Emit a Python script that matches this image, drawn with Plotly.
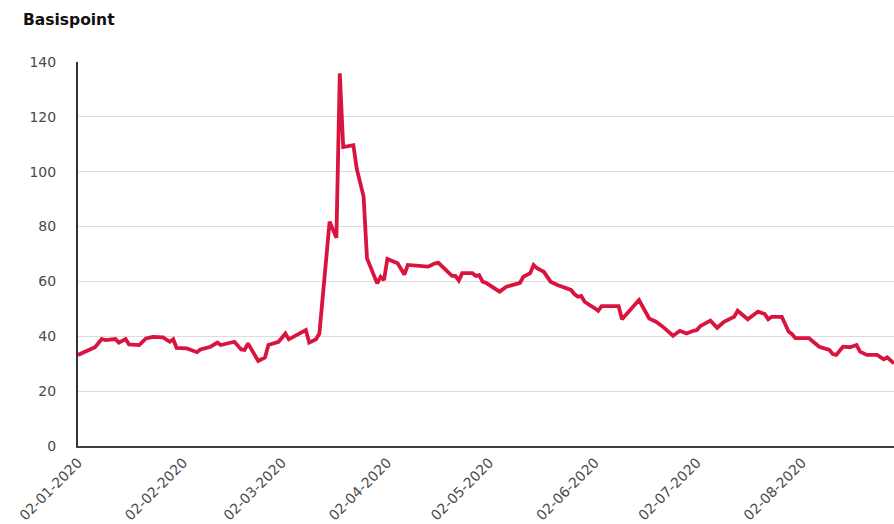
import plotly.graph_objects as go

dates = [
    "2020-01-02", "2020-01-05", "2020-01-07", "2020-01-09", "2020-01-10", "2020-01-13",
    "2020-01-14", "2020-01-16", "2020-01-17", "2020-01-20", "2020-01-22", "2020-01-24",
    "2020-01-27", "2020-01-29", "2020-01-30", "2020-01-31", "2020-02-03", "2020-02-06",
    "2020-02-07", "2020-02-10", "2020-02-12", "2020-02-13", "2020-02-17", "2020-02-19",
    "2020-02-20", "2020-02-21", "2020-02-24", "2020-02-26", "2020-02-27", "2020-03-01",
    "2020-03-03", "2020-03-04", "2020-03-07", "2020-03-09", "2020-03-10", "2020-03-12",
    "2020-03-13", "2020-03-16", "2020-03-18", "2020-03-19", "2020-03-20", "2020-03-23",
    "2020-03-24", "2020-03-26", "2020-03-27", "2020-03-30", "2020-03-31", "2020-04-01",
    "2020-04-02", "2020-04-05", "2020-04-07", "2020-04-08", "2020-04-14", "2020-04-16",
    "2020-04-17", "2020-04-21", "2020-04-22", "2020-04-23", "2020-04-24", "2020-04-27",
    "2020-04-28", "2020-04-29", "2020-04-30", "2020-05-01", "2020-05-05", "2020-05-07",
    "2020-05-10", "2020-05-11", "2020-05-12", "2020-05-14", "2020-05-15", "2020-05-16",
    "2020-05-18", "2020-05-20", "2020-05-22", "2020-05-26", "2020-05-27", "2020-05-28",
    "2020-05-29", "2020-05-30", "2020-06-02", "2020-06-03", "2020-06-04", "2020-06-09",
    "2020-06-10", "2020-06-12", "2020-06-15", "2020-06-18", "2020-06-20", "2020-06-22",
    "2020-06-24", "2020-06-25", "2020-06-27", "2020-06-29", "2020-07-01", "2020-07-02",
    "2020-07-03", "2020-07-06", "2020-07-08", "2020-07-10", "2020-07-13", "2020-07-14",
    "2020-07-17", "2020-07-20", "2020-07-22", "2020-07-23", "2020-07-24", "2020-07-27",
    "2020-07-29", "2020-07-30", "2020-07-31", "2020-08-04", "2020-08-07", "2020-08-10",
    "2020-08-11", "2020-08-12", "2020-08-14", "2020-08-16", "2020-08-18", "2020-08-19",
    "2020-08-21", "2020-08-24", "2020-08-26", "2020-08-27", "2020-08-29",
]
values = [
    33.2, 35.0, 36.0, 39.0, 38.6, 39.0,
    37.7, 39.0, 37.0, 36.8, 39.2, 39.8,
    39.6, 38.0, 38.9, 35.8, 35.6, 34.2,
    35.2, 36.2, 37.7, 36.8, 38.0, 35.2,
    35.0, 37.4, 31.0, 32.3, 36.8, 38.0,
    41.0, 38.9, 41.0, 42.3, 37.7, 38.9,
    41.0, 81.8, 75.9, 135.9, 109.0, 109.7,
    101.0, 90.9, 68.4, 59.3, 61.7, 60.5,
    68.2, 66.6, 62.5, 66.0, 65.4, 66.6,
    66.8, 62.0, 62.0, 60.3, 63.0, 63.0,
    62.0, 62.3, 59.9, 59.5, 56.3, 58.1,
    59.1, 59.5, 61.7, 63.0, 66.0, 64.8,
    63.5, 59.9, 58.7, 56.9, 55.4, 54.4,
    54.7, 52.6, 50.2, 49.3, 51.0, 51.0,
    46.2, 49.0, 53.2, 46.5, 45.3, 43.5,
    41.3, 40.2, 42.0, 41.0, 42.0, 42.3,
    43.7, 45.7, 43.1, 45.3, 47.1, 49.3,
    46.2, 49.0, 48.1, 46.2, 47.1, 47.1,
    41.7, 40.8, 39.3, 39.3, 36.2, 35.0,
    33.5, 33.2, 36.2, 36.0, 36.8, 34.4,
    33.2, 33.2, 31.6, 32.3, 30.1,
]

tick_dates = ["2020-01-02", "2020-02-02", "2020-03-02", "2020-04-02",
              "2020-05-02", "2020-06-02", "2020-07-02", "2020-08-02"]
tick_labels = ["02-01-2020", "02-02-2020", "02-03-2020", "02-04-2020",
               "02-05-2020", "02-06-2020", "02-07-2020", "02-08-2020"]
y_ticks = [0, 20, 40, 60, 80, 100, 120, 140]

fig = go.Figure()
fig.add_trace(go.Scatter(
    x=dates, y=values, mode="lines",
    line=dict(color="#D9143F", width=3.8),
    hoverinfo="skip",
))

fig.update_layout(
    width=894, height=524,
    margin=dict(l=78, r=0, t=62, b=78),
    paper_bgcolor="white", plot_bgcolor="white",
    showlegend=False,
    font=dict(family="DejaVu Sans, sans-serif", color="#4a4a4a"),
    title=dict(
        text="<b>Basispoint</b>", xref="container", yref="container",
        x=23 / 894, y=1 - 20 / 524, xanchor="left", yanchor="middle",
        font=dict(size=15.5, color="#111111", family="DejaVu Sans, sans-serif"),
    ),
)
fig.update_xaxes(
    type="date", range=["2020-01-02", "2020-08-29"],
    tickvals=tick_dates, ticktext=tick_labels, tickangle=-45,
    tickfont=dict(size=14, color="#4a4a4a"),
    showgrid=False, showline=True, linecolor="#404040", linewidth=2,
    ticks="", ticklabelstandoff=1, zeroline=False, automargin=False,
)
fig.update_yaxes(
    range=[0, 140], tickvals=y_ticks,
    tickfont=dict(size=14, color="#4a4a4a"),
    showgrid=True, gridcolor="#DCDCDC", gridwidth=1,
    showline=True, linecolor="#333333", linewidth=2,
    ticks="", ticklabelstandoff=17, zeroline=False, automargin=False,
)

fig.write_html("out.html")
